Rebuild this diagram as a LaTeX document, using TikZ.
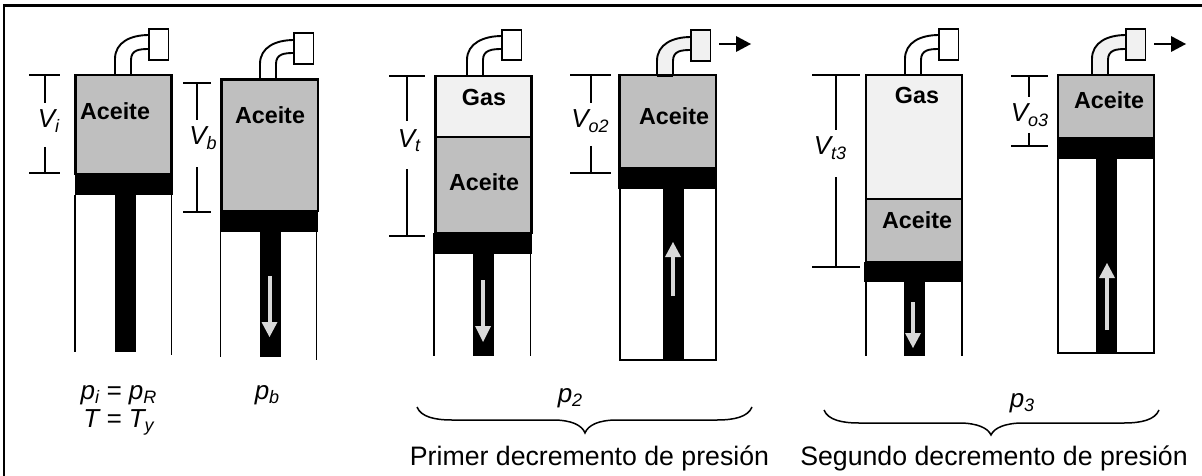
\documentclass[tikz,border=0pt]{standalone}
\usepackage{fontspec}
\setmainfont{Liberation Sans}
\usetikzlibrary{arrows.meta}
\definecolor{oilc}{gray}{0.75}
\definecolor{gasc}{gray}{0.945}
\definecolor{arrc}{gray}{0.85}
\tikzset{
  wall/.style={draw=black,line width=1.5pt},
  thick wall/.style={draw=black,line width=2.1pt},
  oil/.style={fill=oilc,thick wall},
  gas/.style={fill=gasc,thick wall},
  solid black/.style={fill=black,draw=none},
  dim/.style={draw=black,line width=1.5pt},
  lbl/.style={inner sep=0pt,anchor=base,font=\fontsize{26}{28}\selectfont\itshape},
  boldlbl/.style={inner sep=0pt,font=\fontsize{23.3}{25}\selectfont\bfseries},
  plain/.style={inner sep=0pt,font=\fontsize{26.7}{28}\selectfont,anchor=base},
  pipeline/.style={draw=black,line width=1.9pt},
  whitearrow/.style={draw=arrc,line width=4pt},
  flow/.style={draw=black,line width=1.6pt},
  brace/.style={draw=black,line width=1.5pt},
}
\newcommand{\sbs}[1]{\raisebox{-0.17em}{\fontsize{18}{18}\selectfont #1}}
% pipe: outer x, inner x, top of cylinder y, box left x, outer end y, inner end y, box top, box bottom, fill
\newcommand{\pipeelbow}[9]{%
  \fill[#9] (#1,#3) -- (#1,#5+24) .. controls (#1,#5+7) and (#4-18,#5) .. (#4,#5) -- (#4,#6)
     .. controls (#4-10,#6) and (#2,#6+1) .. (#2,#6+11) -- (#2,#3) -- cycle;
  \draw[pipeline] (#1,#3) -- (#1,#5+24) .. controls (#1,#5+7) and (#4-18,#5) .. (#4,#5);
  \draw[pipeline] (#2,#3) -- (#2,#6+11) .. controls (#2,#6+1) and (#4-10,#6) .. (#4,#6);
  \draw[pipeline,fill=#9] (#4,#7) rectangle (#4+19.5,#8);
}
% vertical gray arrow: x, tail y, head-base y, tip y
\newcommand{\rodarrow}[4]{%
  \draw[whitearrow] (#1,#2) -- (#1,#3);
  \fill[arrc] (#1-8,#3) -- (#1+8,#3) -- (#1,#4) -- cycle;
}
% dimension bracket: left, right, centre x, top y, bottom y, gap top, gap bottom
\newcommand{\dimbracket}[7]{%
  \draw[dim] (#1,#4) -- (#2,#4) (#1,#5) -- (#2,#5) (#3,#4) -- (#3,#6) (#3,#7) -- (#3,#5);
}
\newcommand{\outflow}[2]{%
  \draw[flow] (#1,#2) -- (#1+18,#2);
  \fill[black] (#1+17,#2-8) -- (#1+32,#2) -- (#1+17,#2+8) -- cycle;
}
% curly brace: left, right, tip x, top y, mid y, tip y
\newcommand{\bracecurve}[6]{%
  \draw[brace] (#1,#4) .. controls (#1+4,#5-3) and (#1+18,#5) .. (#1+35,#5) -- (#3-32,#5)
     .. controls (#3-14,#5) and (#3-3,#5+5) .. (#3,#6)
     .. controls (#3+3,#5+5) and (#3+14,#5) .. (#3+32,#5) -- (#2-35,#5)
     .. controls (#2-18,#5) and (#2-4,#5-3) .. (#2,#4);
}
\begin{document}
\begin{tikzpicture}[x=1pt,y=-1pt]
\useasboundingbox (0,0) rectangle (1202,476);
\fill[white] (0,0) rectangle (1202,476);
% frame (top and left only)
\draw[black,line width=2.2pt] (4,476) -- (4,5.5) -- (1202,5.5);

% ---------- cylinder 1
\draw[wall] (75,195) -- (75,352) (171.5,195) -- (171.5,355);
\pipeelbow{115}{131}{75}{149}{35}{49}{29}{60}{white}
\draw[oil] (75.5,75) rectangle (171.5,174);
\fill[solid black] (74.5,174) rectangle (172.5,195);
\fill[solid black] (115,195) rectangle (135.5,352);
\dimbracket{29}{60}{45}{75}{173}{103}{147}
\node[boldlbl] (a1) at (115,111) {Aceite};
\node[lbl] (vi) at (48.5,128) {V\sbs{i}};
\node[lbl] (pi) at (118.5,399) {p\sbs{i} = p\sbs{R}};
\node[lbl] (ti) at (118.5,427) {T = T\sbs{y}};

% ---------- cylinder 2
\draw[wall] (220.5,232) -- (220.5,357) (316.5,232) -- (316.5,360);
\pipeelbow{260}{276}{79.5}{294}{40}{53}{33}{64}{white}
\draw[oil] (221.5,79.5) rectangle (318,211);
\fill[solid black] (220,211) rectangle (318,232);
\fill[solid black] (260,232) rectangle (281,357);
\rodarrow{269.5}{276}{322}{337}
\dimbracket{183}{211}{197}{83}{212}{120}{167}
\node[boldlbl] (a2) at (270,115) {Aceite};
\node[lbl] (vb) at (203,145) {V\sbs{b}};
\node[lbl] (pb) at (267,399) {p\sbs{b}};

% ---------- cylinder 3
\draw[wall] (434,254) -- (434,356) (530.5,254) -- (530.5,356);
\pipeelbow{467}{483}{76}{502}{36}{49}{30}{60}{white}
\draw[gas] (435.5,76) rectangle (531.5,137);
\draw[oil] (435.5,137) rectangle (531.5,233);
\fill[solid black] (433,233) rectangle (531.5,254);
\fill[solid black] (473,254) rectangle (493.5,356);
\rodarrow{483}{280}{326}{342}
\dimbracket{389}{425}{407}{76}{236}{121}{169}
\node[boldlbl] (g3) at (484,97) {Gas};
\node[boldlbl] (a3) at (484,182) {Aceite};
\node[lbl] (vt) at (409,147) {V\sbs{t}};

% ---------- cylinder 4
\draw[wall] (620,189) -- (620,360) -- (716,360) -- (716,189);
\pipeelbow{657}{673}{75.5}{691}{37}{50}{30}{61}{gasc}
\draw[oil] (619.5,75) rectangle (716,168);
\draw[pipeline] (657,76) -- (673,76);
\fill[solid black] (618,168) rectangle (716.5,189);
\fill[solid black] (663,189) rectangle (683.5,360);
\rodarrow{673}{296}{257}{242}
\outflow{719}{44}
\dimbracket{570}{611}{591}{75}{173}{103}{146}
\node[boldlbl] (a4) at (674,116) {Aceite};
\node[lbl] (vo2) at (590,128) {V\sbs{o2}};

% ---------- brace p2
\bracecurve{417}{752}{585}{407}{420}{433}
\node[lbl] (p2) at (570,402) {p\sbs{2}};
\node[plain] (t2) at (589.5,465) {Primer decremento de presión};

% ---------- cylinder 5
\draw[wall] (866,282) -- (866,356) (962,282) -- (962,356);
\pipeelbow{905}{921}{75}{939}{35}{49}{29}{60}{white}
\draw[gas] (866,75) rectangle (962,199);
\draw[oil] (866,199) rectangle (962,262);
\fill[solid black] (864,262) rectangle (962.5,282);
\fill[solid black] (904,282) rectangle (925,356);
\rodarrow{913}{302}{333}{348}
\dimbracket{812}{860}{836}{75}{267}{130}{177}
\node[boldlbl] (g5) at (917,95) {Gas};
\node[boldlbl] (a5) at (917,220) {Aceite};
\node[lbl] (vt3) at (830,155) {V\sbs{t3}};

% ---------- cylinder 6
\draw[wall] (1058,159) -- (1058,353) -- (1154,353) -- (1154,159);
\pipeelbow{1092}{1108}{75}{1126}{35}{49}{29}{60}{gasc}
\draw[oil] (1058,75) rectangle (1154,138);
\fill[solid black] (1057,138) rectangle (1155,159);
\fill[solid black] (1096,159) rectangle (1117,353);
\rodarrow{1107}{330}{278}{263}
\outflow{1154}{44}
\dimbracket{1011}{1048}{1029}{76}{146}{97}{133}
\node[boldlbl] (a6) at (1109,100) {Aceite};
\node[lbl] (vo3) at (1029.5,122) {V\sbs{o3}};

% ---------- brace p3
\bracecurve{824}{1159}{991}{410}{423}{435}
\node[lbl] (p3) at (1022,407) {p\sbs{3}};
\node[plain] (t3) at (994,465) {Segundo decremento de presión};
\end{tikzpicture}
\end{document}
